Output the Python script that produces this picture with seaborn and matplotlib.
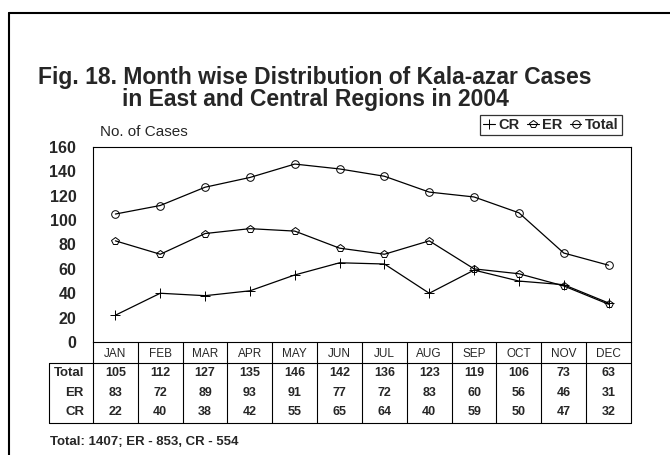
import numpy as np
import pandas as pd
import seaborn as sns
import matplotlib.pyplot as plt
from matplotlib.lines import Line2D

months = ["JAN", "FEB", "MAR", "APR", "MAY", "JUN", "JUL", "AUG", "SEP", "OCT", "NOV", "DEC"]
total = [105, 112, 127, 135, 146, 142, 136, 123, 119, 106, 73, 63]
er = [83, 72, 89, 93, 91, 77, 72, 83, 60, 56, 46, 31]
cr = [22, 40, 38, 42, 55, 65, 64, 40, 59, 50, 47, 32]
y_ticks = [0, 20, 40, 60, 80, 100, 120, 140, 160]

series = {"CR": cr, "ER": er, "Total": total}
df = pd.concat(
    [pd.DataFrame({"idx": range(12), "cases": v, "series": k}) for k, v in series.items()],
    ignore_index=True,
)

sns.set_theme(style="white")
plt.rcParams["font.family"] = ["Liberation Sans", "DejaVu Sans"]

W, H = 670, 455
fig = plt.figure(figsize=(6.7, 4.55), dpi=100)


def px(x0, y0, x1, y1):
    # pixel box -> figure fraction rect
    return [x0 / W, 1 - y1 / H, (x1 - x0) / W, (y1 - y0) / H]


def fx(x):
    return x / W


def fy(y):
    return 1 - y / H


L, R, TOP, BOT = 93, 631, 147, 342
ax = fig.add_axes(px(L, TOP, R, BOT))
mk = {"CR": "+", "ER": "p", "Total": "o"}
msz = {"CR": 7, "ER": 6, "Total": 5.5}
for name in series:
    sns.lineplot(data=df[df["series"] == name], x="idx", y="cases", marker=mk[name],
                 color="black", linewidth=0.9, markersize=msz[name], markerfacecolor="none",
                 markeredgecolor="black", markeredgewidth=0.7, legend=False, ax=ax)

ax.set_xlim(-0.5, 11.5)
ax.set_ylim(0, 160)
ax.set_yticks(y_ticks)
ax.set_yticklabels([str(t) for t in y_ticks], fontsize=11.5, fontweight="bold")
ax.set_xticks([])
ax.tick_params(axis="y", length=0, pad=12)
ax.set_xlabel("")
ax.set_ylabel("")
for s in ax.spines.values():
    s.set_color("black")
    s.set_linewidth(0.8)

# legend
handles = [Line2D([], [], color="black", lw=0.8, marker=mk[k], markersize=msz[k],
                  markerfacecolor="none", markeredgewidth=0.7) for k in series]
leg = fig.legend(handles, list(series.keys()), loc="center",
                 bbox_to_anchor=(fx((483 + 619) / 2), fy(125)), ncol=3,
                 frameon=True, fancybox=False, handlelength=0.8, handletextpad=0.25,
                 columnspacing=0.5, borderpad=0.2, borderaxespad=0,
                 prop={"weight": "bold", "size": 10.5})
leg.get_frame().set_edgecolor("black")
leg.get_frame().set_linewidth(0.9)

# data table below the plot (y in pixel units)
TB = 423
tb = fig.add_axes(px(L, BOT, R, TB))
tb.set_xlim(-0.5, 11.5)
tb.set_ylim(TB, BOT)
tb.axis("off")
col_w = (R - L) / 12
lab_x = -0.5 - (L - 49) / col_w
kw = dict(color="black", lw=0.8, clip_on=False)
for i in range(13):
    tb.plot([i - 0.5, i - 0.5], [BOT, TB], **kw)
tb.plot([lab_x, 11.5], [363, 363], **kw)
tb.plot([lab_x, 11.5], [TB, TB], **kw)
tb.plot([lab_x, lab_x], [363, TB], **kw)
for i, m in enumerate(months):
    tb.text(i, 354, m, ha="center", va="center", fontsize=8.5)
rows = [("Total", total, 373), ("ER", er, 392.5), ("CR", cr, 412)]
for name, vals, yc in rows:
    tb.text(-0.5 - 9 / col_w, yc, name, ha="right", va="center", fontsize=9.5,
            fontweight="bold")
    for i, v in enumerate(vals):
        tb.text(i, yc, str(v), ha="center", va="center", fontsize=9, fontweight="bold")

# titles and notes
fig.text(fx(38), fy(84), "Fig. 18. Month wise Distribution of Kala-azar Cases",
         fontsize=16.5, fontweight="bold", va="baseline")
fig.text(fx(122), fy(106), "in East and Central Regions in 2004",
         fontsize=16.5, fontweight="bold", va="baseline")
fig.text(fx(188), fy(132), "No. of Cases", fontsize=11, ha="right", va="center")
fig.text(fx(50), fy(442), "Total: 1407; ER - 853, CR - 554",
         fontsize=9.5, fontweight="bold", va="center")

# outer frame (left and top edges)
fig.add_artist(Line2D([fx(9), fx(9)], [0, fy(13)], transform=fig.transFigure,
                      color="black", lw=1.5))
fig.add_artist(Line2D([fx(9), 1], [fy(13), fy(13)], transform=fig.transFigure,
                      color="black", lw=1.5))

fig.savefig("out.png", dpi=100)
